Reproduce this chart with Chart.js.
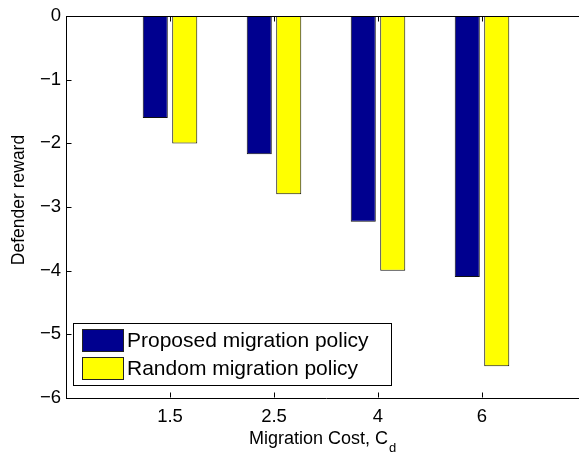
<!DOCTYPE html>
<html>
<head>
<meta charset="utf-8">
<script src="https://cdn.jsdelivr.net/npm/chart.js@4/dist/chart.umd.min.js"></script>
<style>
  html, body { margin: 0; padding: 0; background: #fff; overflow: hidden; }
  #wrap { width: 579px; height: 460px; overflow: hidden; }
</style>
</head>
<body>
<div id="wrap"><canvas id="c" width="660" height="460"></canvas></div>
<script>
// ---- data ----
const categories = ['1.5', '2.5', '4', '6'];
const proposedReward = [-1.6, -2.17, -3.23, -4.1];
const randomReward = [-2.0, -2.8, -4.0, -5.5];
const seriesNames = ['Proposed migration policy', 'Random migration policy'];
const yTicks = [-6, -5, -4, -3, -2, -1, 0];
const xTitle = 'Migration Cost, C';
const xTitleSub = 'd';
const yTitle = 'Defender reward';

const FONT = '"Liberation Sans", Arial, Helvetica, sans-serif';
const labels = [''].concat(categories, ['']);
const pad = arr => [null].concat(arr, [null]);

const boxPlugin = {
  id: 'matlabBox',
  afterDatasetsDraw(chart) {
    const {ctx, chartArea: a, scales} = chart;
    ctx.save();
    ctx.strokeStyle = '#000';
    ctx.lineWidth = 1;
    const L = Math.round(a.left) + 0.5, R = Math.round(a.right) - 0.5;
    const T = Math.round(a.top) + 0.5, B = Math.round(a.bottom) - 0.5;
    ctx.beginPath();
    ctx.moveTo(L, T); ctx.lineTo(R, T);
    ctx.moveTo(R, T); ctx.lineTo(R, B);
    ctx.stroke();
    // inward ticks
    const tl = 5;
    ctx.beginPath();
    scales.x.ticks.forEach((t, i) => {
      if (!labels[i]) return;
      const x = Math.round(scales.x.getPixelForTick(i)) + 0.5;
      ctx.moveTo(x, B); ctx.lineTo(x, B - tl);
      ctx.moveTo(x, T); ctx.lineTo(x, T + tl);
    });
    scales.y.ticks.forEach((t, i) => {
      const y = Math.round(scales.y.getPixelForTick(i)) + 0.5;
      ctx.moveTo(L, y); ctx.lineTo(L + tl, y);
      ctx.moveTo(R, y); ctx.lineTo(R - tl, y);
    });
    ctx.stroke();
    ctx.restore();
  },
  afterDraw(chart) {
    const {ctx, chartArea: a} = chart;
    ctx.save();
    // legend box inside the plot
    const lx = a.left + 7, lw = 318, lh = 62;
    const ly = a.bottom - 13 - lh;
    ctx.fillStyle = '#fff';
    ctx.fillRect(lx, ly, lw, lh);
    ctx.strokeStyle = '#000';
    ctx.lineWidth = 1;
    ctx.strokeRect(Math.round(lx) + 0.5, Math.round(ly) + 0.5, lw, lh);
    ctx.font = '21px ' + FONT;
    ctx.textBaseline = 'middle';
    ctx.textAlign = 'left';
    chart.data.datasets.forEach((ds, i) => {
      const sy = ly + 6 + i * 28;
      ctx.fillStyle = ds.backgroundColor;
      ctx.fillRect(lx + 9, sy, 41, 22);
      ctx.strokeStyle = '#222';
      ctx.strokeRect(Math.round(lx + 9) + 0.5, Math.round(sy) + 0.5, 41, 22);
      ctx.fillStyle = '#000';
      ctx.fillText(ds.label, lx + 54, sy + 12);
    });
    // axis titles
    ctx.font = '18px ' + FONT;
    const mainW = ctx.measureText(xTitle).width;
    const x0 = 249;
    ctx.textBaseline = 'alphabetic';
    ctx.fillText(xTitle, x0, 444);
    ctx.font = '13px ' + FONT;
    ctx.fillText(xTitleSub, x0 + mainW + 1, 452);
    ctx.translate(19, 200);
    ctx.rotate(-Math.PI / 2);
    ctx.font = '17.5px ' + FONT;
    ctx.textAlign = 'center';
    ctx.textBaseline = 'middle';
    ctx.fillText(yTitle, 0, 0);
    ctx.restore();
  }
};

new Chart(document.getElementById('c'), {
  type: 'bar',
  data: {
    labels: labels,
    datasets: [
      { label: seriesNames[0], data: pad(proposedReward), backgroundColor: '#00008F',
        borderColor: '#111', borderWidth: 1, borderSkipped: false },
      { label: seriesNames[1], data: pad(randomReward), backgroundColor: '#FFFF00',
        borderColor: '#111', borderWidth: 1, borderSkipped: false }
    ]
  },
  options: {
    responsive: false,
    animation: false,
    devicePixelRatio: 1,
    layout: { padding: { left: 0, right: 74, top: 13, bottom: 0 } },
    datasets: { bar: { categoryPercentage: 0.567, barPercentage: 0.85 } },
    plugins: { legend: { display: false }, tooltip: { enabled: false }, title: { display: false } },
    scales: {
      x: {
        offset: false,
        grid: { display: false, drawTicks: false },
        border: { display: true, color: '#000', width: 1 },
        ticks: { color: '#000', font: { family: FONT, size: 18.5 }, padding: 8,
                 autoSkip: false, maxRotation: 0 },
        afterFit(s) { s.height = 62; }
      },
      y: {
        min: -6, max: 0,
        grid: { display: false, drawTicks: false },
        border: { display: true, color: '#000', width: 1 },
        afterBuildTicks(s) { s.ticks = yTicks.map(v => ({ value: v })); },
        ticks: { color: '#000', font: { family: FONT, size: 18.5 }, padding: 5,
                 callback: v => (v < 0 ? '\u2212' + Math.abs(v) : String(v)) },
        afterFit(s) { s.width = 66; }
      }
    }
  },
  plugins: [boxPlugin]
});
</script>
</body>
</html>
